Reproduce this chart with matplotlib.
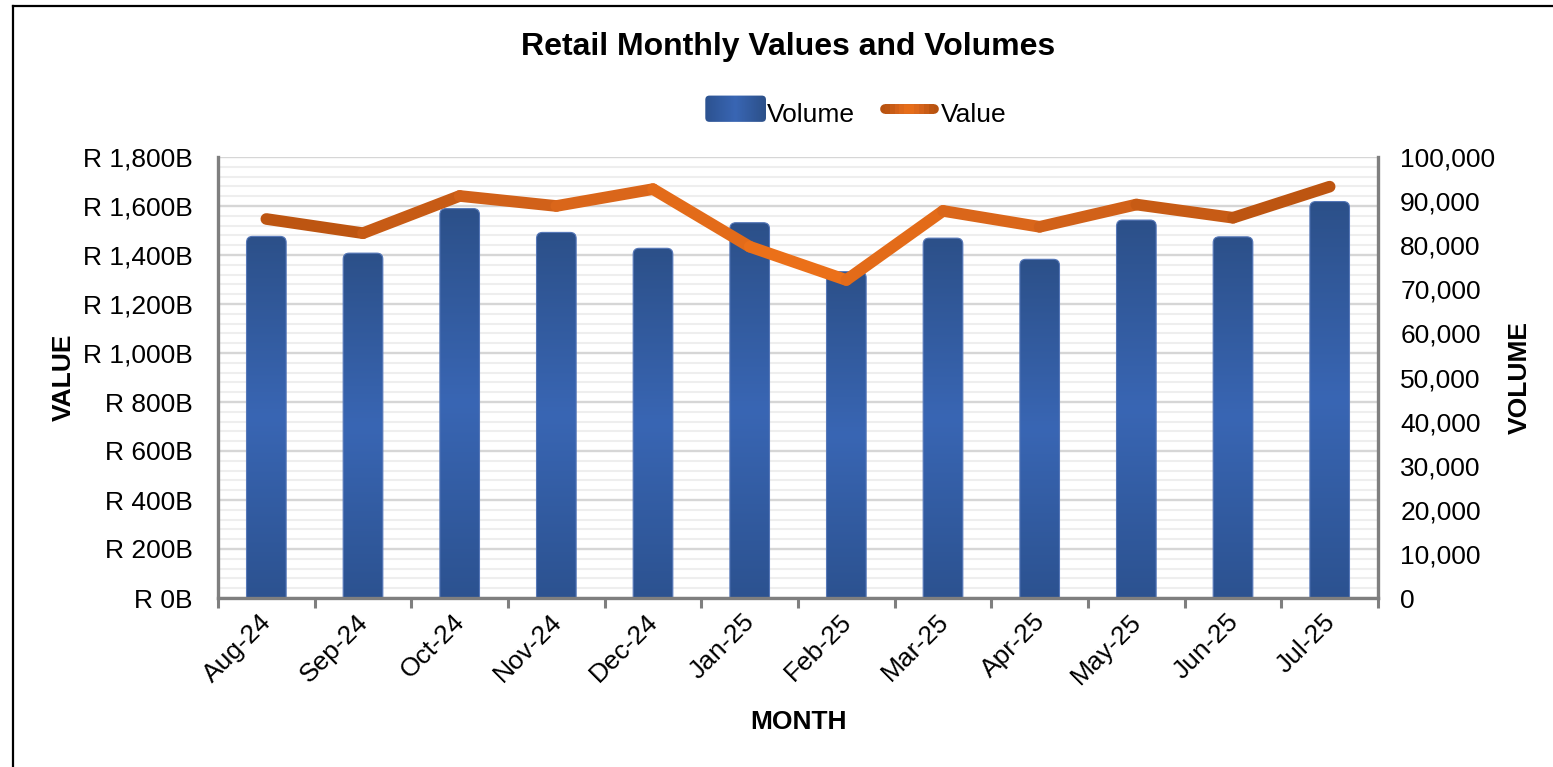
import numpy as np
import matplotlib
matplotlib.use("Agg")
import matplotlib.pyplot as plt
from matplotlib.colors import LinearSegmentedColormap
from matplotlib.patches import FancyBboxPatch, Patch
from matplotlib.lines import Line2D
from matplotlib.collections import LineCollection
from matplotlib.ticker import MultipleLocator, FuncFormatter
from matplotlib.legend_handler import HandlerBase
from matplotlib.transforms import ScaledTranslation, Bbox, TransformedBbox
from matplotlib.image import BboxImage

plt.rcParams['font.family'] = ['Liberation Sans', 'DejaVu Sans']

# ---------------- data ----------------
months = ["Aug-24", "Sep-24", "Oct-24", "Nov-24", "Dec-24", "Jan-25",
          "Feb-25", "Mar-25", "Apr-25", "May-25", "Jun-25", "Jul-25"]
volume = [82000, 78200, 88300, 82900, 79300, 85100,
          74000, 81600, 76800, 85700, 81900, 89900]
value_b = [1547, 1489, 1641, 1600, 1669, 1434,
           1298, 1580, 1515, 1606, 1552, 1679]

title = "Retail Monthly Values and Volumes"

# ---------------- figure ----------------
W, H = 1553, 767
fig = plt.figure(figsize=(W / 100, H / 100), dpi=100)
fig.patch.set_facecolor("white")

L, R, T, B = 218, 1378, 157, 598
ax = fig.add_axes([L / W, 1 - B / H, (R - L) / W, (B - T) / H])
ax2 = ax.twinx()
ax3 = ax.twinx()

gray = "#7F7F7F"
FS = 19
x = np.arange(len(months))

# value axis (left): grid
ax.set_xlim(-0.5, len(months) - 0.5)
ax.set_ylim(0, 1800)
ax.yaxis.set_major_locator(MultipleLocator(200))
ax.yaxis.set_minor_locator(MultipleLocator(40))
ax.yaxis.set_major_formatter(FuncFormatter(lambda v, p: f"R {v:,.0f}B"))
ax.grid(which="minor", axis="y", color="#EEEEEE", lw=1.5)
ax.grid(which="major", axis="y", color="#D6D6D6", lw=1.7)
ax.set_axisbelow(True)
ax.tick_params(axis="y", which="both", length=0, labelsize=FS, pad=18)
ax.tick_params(axis="x", which="major", length=7, width=2.2, color=gray,
               labelbottom=False)
ax.tick_params(axis="x", which="minor", length=0, labelsize=FS, pad=4)
ax.set_xticks(np.arange(-0.5, len(months), 1.0))
ax.set_xticks(x, minor=True)
ax.set_xticklabels(months, minor=True, rotation=45, ha="right",
                   rotation_mode="anchor")
off = ScaledTranslation(-7 / 100, -6 / 100, fig.dpi_scale_trans)
for lab in ax.get_xticklabels(minor=True):
    lab.set_transform(lab.get_transform() + off)
for s in ["top", "right", "bottom"]:
    ax.spines[s].set_visible(False)
ax.spines["left"].set_color(gray)
ax.spines["left"].set_linewidth(2.4)

# volume axis (right): bars
ax2.set_ylim(0, 100000)
ax2.yaxis.set_major_locator(MultipleLocator(10000))
ax2.yaxis.set_major_formatter(FuncFormatter(lambda v, p: f"{v:,.0f}"))
ax2.tick_params(axis="y", length=0, labelsize=FS, pad=16)
for s in ["top", "left", "bottom"]:
    ax2.spines[s].set_visible(False)
ax2.spines["right"].set_color(gray)
ax2.spines["right"].set_linewidth(2.4)

bar_cmap = LinearSegmentedColormap.from_list(
    "barg", ["#2C5290", "#3966B4", "#2C5089"])
bars = ax2.bar(x, volume, width=0.41, color="none", edgecolor="none")

fig.canvas.draw()
# pixel scale for rounded corners
px_x = ax2.transData.transform((1, 0))[0] - ax2.transData.transform((0, 0))[0]
px_y = ax2.transData.transform((0, 1000))[1] - ax2.transData.transform((0, 0))[1]
r_px = 6
rx = r_px / px_x
ry = r_px / px_y * 1000
aspect = ry / rx
grad = np.linspace(0, 1, 256).reshape(-1, 1)
for b in bars:
    x0, w, h = b.get_x(), b.get_width(), b.get_height()
    patch = FancyBboxPatch((x0, -2 * ry), w, h + 2 * ry,
                           boxstyle=f"round,pad=0,rounding_size={rx}",
                           mutation_aspect=aspect, facecolor="none",
                           edgecolor="#5577B8", lw=0.8, zorder=3)
    ax2.add_patch(patch)
    im = ax2.imshow(grad, cmap=bar_cmap, aspect="auto", origin="lower",
                    extent=[x0, x0 + w, 0, h], zorder=2,
                    interpolation="bilinear")
    im.set_clip_path(patch)
ax2.set_xlim(-0.5, len(months) - 0.5)
ax2.set_ylim(0, 100000)

# line axis (top layer, same scale as value axis)
ax3.set_ylim(0, 1800)
ax3.set_xlim(-0.5, len(months) - 0.5)
ax3.yaxis.set_visible(False)
for s in ["top", "left", "right"]:
    ax3.spines[s].set_visible(False)
ax3.spines["bottom"].set_color(gray)
ax3.spines["bottom"].set_linewidth(2.4)

line_cmap = LinearSegmentedColormap.from_list(
    "lineg", ["#B8520F", "#D4621A", "#EB7019", "#D4621A", "#B8520F"])
pts = np.column_stack([x, value_b])
segs = np.stack([pts[:-1], pts[1:]], axis=1)
mids = (x[:-1] + x[1:]) / 2 / (len(months) - 1)
lc = LineCollection(segs, colors=line_cmap(mids), linewidths=8.4,
                    capstyle="round", joinstyle="round", zorder=4)
ax3.add_collection(lc)

# labels
ax.set_ylabel("VALUE", fontsize=FS, fontweight="bold")
ax.yaxis.set_label_coords(-0.123, 0.5)
ax2.set_ylabel("VOLUME", fontsize=FS, fontweight="bold")
ax2.yaxis.set_label_coords(1.112, 0.5)
ax.set_xlabel("MONTH", fontsize=FS, fontweight="bold")
ax.xaxis.set_label_coords(0.5, -0.255)

fig.text(788 / W, 1 - 47 / H, title, fontsize=23, fontweight="bold",
         ha="center", va="center")


# legend handlers with rounded shapes and gradients
class GradBoxHandler(HandlerBase):
    def create_artists(self, legend, orig, xd, yd, width, height, fontsize, trans):
        box = FancyBboxPatch((xd, yd - 0.1 * height), width, height * 1.2,
                             boxstyle="round,pad=0,rounding_size=3",
                             facecolor="none", edgecolor="none", transform=trans)
        img_grad = np.linspace(0, 1, 64).reshape(1, -1)
        bb = TransformedBbox(Bbox.from_bounds(xd, yd - 0.1 * height, width, height * 1.2), trans)
        bim = BboxImage(bb, cmap=bar_cmap, interpolation="bilinear")
        bim.set_data(img_grad)
        bim.set_clip_path(box)
        return [box, bim]


class GradLineHandler(HandlerBase):
    def create_artists(self, legend, orig, xd, yd, width, height, fontsize, trans):
        n = 10
        x0, x1 = xd + 4, xd + width - 4
        xs = np.linspace(x0, x1, n + 1)
        yc = yd + height / 2
        arts = [Line2D([x0, x1], [yc, yc], color=line_cmap(0.0), lw=7,
                       solid_capstyle="round", transform=trans)]
        for i in range(n):
            c = line_cmap((i + 0.5) / n)
            arts.append(Line2D([xs[i], xs[i + 1]], [yc, yc], color=c, lw=7,
                               solid_capstyle="butt", transform=trans))
        return arts


hv = Patch(facecolor="#3462AD")
hl = Line2D([0], [0], color="#D8631A")
fig.legend([hv, hl], ["Volume", "Value"], loc="center",
           bbox_to_anchor=(856 / W, 1 - 114 / H), ncol=2, frameon=False,
           fontsize=FS, handlelength=2.3, handleheight=0.9,
           handletextpad=0.05, columnspacing=0.9,
           handler_map={hv: GradBoxHandler(), hl: GradLineHandler()})

# outer frame (left and top edges)
fig.add_artist(Line2D([12.5 / W, 12.5 / W], [0, 1 - 6 / H], color="black",
                      lw=1.6, transform=fig.transFigure))
fig.add_artist(Line2D([12.5 / W, 1], [1 - 6 / H, 1 - 6 / H], color="black",
                      lw=1.6, transform=fig.transFigure))

fig.savefig("out.png", dpi=100)
